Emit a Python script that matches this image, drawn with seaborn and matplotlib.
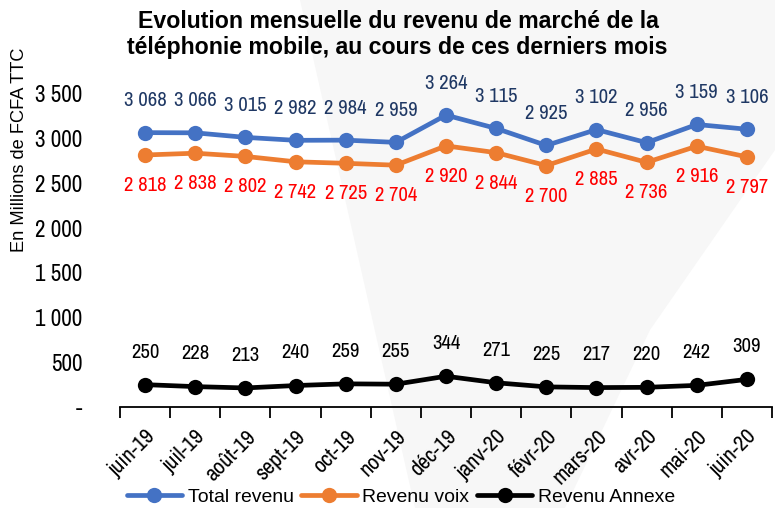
import matplotlib
matplotlib.use("Agg")
import matplotlib.pyplot as plt
import seaborn as sns
import pandas as pd
import numpy as np
from matplotlib.ticker import FixedLocator
from matplotlib.patches import Polygon

months = ["juin-19", "juil-19", "août-19", "sept-19", "oct-19", "nov-19", "déc-19",
          "janv-20", "févr-20", "mars-20", "avr-20", "mai-20", "juin-20"]
total = [3068, 3066, 3015, 2982, 2984, 2959, 3264, 3115, 2925, 3102, 2956, 3159, 3106]
voix = [2818, 2838, 2802, 2742, 2725, 2704, 2920, 2844, 2700, 2885, 2736, 2916, 2797]
annexe = [250, 228, 213, 240, 259, 255, 344, 271, 225, 217, 220, 242, 309]
series_names = ["Total revenu", "Revenu voix", "Revenu Annexe"]
yticks = [0, 500, 1000, 1500, 2000, 2500, 3000, 3500]
ytick_labels = ["-", "500", "1 000", "1 500", "2 000", "2 500", "3 000", "3 500"]
title_lines = ["Evolution mensuelle du revenu de marché de la",
               "téléphonie mobile, au cours de ces derniers mois"]
ylabel = "En Millions de FCFA TTC"

sns.set_style("white")
plt.rcParams['font.family'] = ['Liberation Sans', 'DejaVu Sans']
for k in ["text.color", "axes.labelcolor", "xtick.color", "ytick.color"]:
    plt.rcParams[k] = "black"
NARROW = ['Archivo Narrow', 'Liberation Sans', 'DejaVu Sans']
REG = ['Liberation Sans', 'DejaVu Sans']

W, H = 775, 508
fig = plt.figure(figsize=(W / 100, H / 100), dpi=100)
renderer = fig.canvas.get_renderer()

def fit(text, target_px, family, weight="normal"):
    t = fig.text(0, 0, text, fontsize=10, family=family, fontweight=weight)
    w = t.get_window_extent(renderer).width
    t.remove()
    return 10 * target_px / w

FS_DATA = fit("3 068", 42, NARROW)
FS_YT = fit("3 500", 47, NARROW)
FS_XT = fit("juin-19", 56, NARROW)
FS_LEG = fit("Total revenu", 106, REG)
FS_YL = fit(ylabel, 205, REG)
FS_T = fit(title_lines[0], 523, REG, "bold")

def fx(x):
    return x / W

def fy(y):
    return 1 - y / H

# faint background swoosh
bg = Polygon([(fx(300), fy(0)), (fx(775), fy(0)), (fx(775), fy(150)), (fx(650), fy(330)),
              (fx(565), fy(508)), (fx(415), fy(508))], closed=True, transform=fig.transFigure,
             facecolor="#f7f7f7", edgecolor="none", zorder=-5)
fig.patches.append(bg)

df = pd.DataFrame({
    "mois": months * 3,
    "valeur": total + voix + annexe,
    "serie": [series_names[0]] * 13 + [series_names[1]] * 13 + [series_names[2]] * 13,
})

line_colors = {"Total revenu": "#4472C4", "Revenu voix": "#ED7D31", "Revenu Annexe": "#000000"}
label_colors = {"Total revenu": "#1F3864", "Revenu voix": "#FF0000", "Revenu Annexe": "#000000"}
offsets = {"Total revenu": 23, "Revenu voix": -22, "Revenu Annexe": 23.5}

ax = fig.add_axes([fx(120), fy(407), fx(772) - fx(120), fy(94) - fy(407)])
ax.set_facecolor("none")
ax.set_zorder(2)

sns.lineplot(data=df, x="mois", y="valeur", hue="serie", palette=line_colors,
             marker="o", markersize=11, linewidth=3.4, markeredgewidth=0,
             sort=False, ax=ax)

def fmt(v):
    return f"{v:,}".replace(",", " ")

for name, vals in zip(series_names, [total, voix, annexe]):
    for i, v in enumerate(vals):
        ax.annotate(fmt(v), (i, v), xytext=(0, offsets[name]), textcoords="offset points",
                    ha="center", va="center", fontsize=FS_DATA, family=NARROW,
                    color=label_colors[name], annotation_clip=False)

ax.set_xlim(-0.5, len(months) - 0.5)
ax.set_ylim(0, 3500)
ax.set_yticks(yticks)
ax.set_yticklabels(ytick_labels, fontsize=FS_YT, family=NARROW)
ax.set_xticks(range(len(months)))
ax.set_xticklabels(months, rotation=45, ha="right", rotation_mode="anchor",
                   fontsize=FS_XT, family=NARROW)
ax.tick_params(axis="x", which="major", length=0, pad=14)
ax.xaxis.set_minor_locator(FixedLocator(np.arange(-0.5, len(months), 1.0)))
ax.tick_params(axis="x", which="minor", length=8, width=1.3, color="black",
               direction="out", bottom=True)
ax.tick_params(axis="y", length=0, pad=27)
for s in ["top", "right", "left"]:
    ax.spines[s].set_visible(False)
ax.spines["bottom"].set_color("black")
ax.spines["bottom"].set_linewidth(1.3)
ax.set_xlabel("")
ax.set_ylabel("")

fig.text(fx(20), fy(150), ylabel, rotation=90, ha="center", va="center",
         fontsize=FS_YL, family=REG, color="black")

handles, labels = ax.get_legend_handles_labels()
leg = ax.legend(handles, labels, loc="center", bbox_to_anchor=(fx(401), fy(497)),
                bbox_transform=fig.transFigure, ncol=3, frameon=False, fontsize=FS_LEG,
                handlelength=2.85, handletextpad=0.3, columnspacing=0.4, borderaxespad=0,
                borderpad=0)
for t in leg.get_texts():
    t.set_color("black")

fig.text(fx(398), fy(22), title_lines[0], ha="center", va="center",
         fontsize=FS_T, fontweight="bold", family=REG, color="black")
fig.text(fx(397), fy(47), title_lines[1], ha="center", va="center",
         fontsize=FS_T, fontweight="bold", family=REG, color="black")

fig.savefig("out.png", dpi=100)
